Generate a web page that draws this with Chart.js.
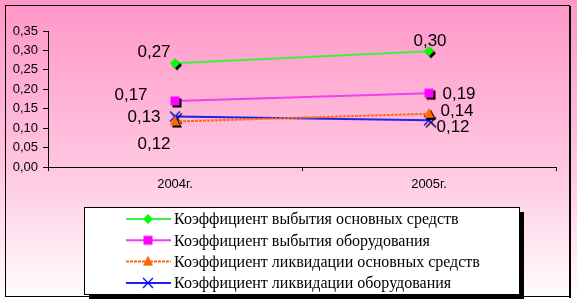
<!DOCTYPE html>
<html>
<head>
<meta charset="utf-8">
<script src="https://cdn.jsdelivr.net/npm/chart.js@4.4.0/dist/chart.umd.min.js"></script>
<style>
  html, body { margin: 0; padding: 0; background: #fff; }
</style>
</head>
<body>
<canvas id="chart" width="577" height="303"></canvas>
<script>
const years = ['2004г.', '2005г.'];
const vybytieOS = [0.267, 0.298];
const vybytieObor = [0.17, 0.19];
const likvidOS = [0.117, 0.137];
const likvidObor = [0.13, 0.12];
const seriesNames = [
    'Коэффициент выбытия основных средств',
    'Коэффициент выбытия оборудования',
    'Коэффициент ликвидации основных средств',
    'Коэффициент ликвидации оборудования'
];

// where each value label sits relative to its point
const labelShift = [
    [[-21, -11], [1, -10]],
    [[-44, -6], [30, 1]],
    [[-21, 23], [28, -2]],
    [[-31, 1], [24, 7]]
];

function fmt(v) {
    return v.toFixed(2).replace('.', ',');
}

function shape(c, kind, x, y, color) {
    c.fillStyle = color;
    c.strokeStyle = color;
    c.beginPath();
    if (kind === 'diamond') {
        c.moveTo(x, y - 5); c.lineTo(x + 5, y); c.lineTo(x, y + 5); c.lineTo(x - 5, y);
        c.closePath(); c.fill();
    } else if (kind === 'square') {
        c.rect(x - 4.5, y - 4.5, 9, 9); c.fill();
    } else if (kind === 'triangle') {
        c.moveTo(x, y - 6); c.lineTo(x + 5, y + 4); c.lineTo(x - 5, y + 4);
        c.closePath(); c.fill();
    } else {
        c.lineWidth = 1.3;
        c.moveTo(x - 5, y - 5); c.lineTo(x + 5, y + 5);
        c.moveTo(x + 5, y - 5); c.lineTo(x - 5, y + 5);
        c.stroke();
    }
}

function marker(kind, color, withShadow) {
    const cv = document.createElement('canvas');
    cv.width = 20; cv.height = 20;
    const c = cv.getContext('2d');
    if (withShadow) shape(c, kind, 12, 12, '#000');
    shape(c, kind, 10, 10, color);
    return cv;
}

const colors = ['#00ff00', '#ff00ff', '#ff6600', '#0000ff'];
const lineColors = ['#40f040', '#f040f0', '#ff6a10', '#2020f0'];
const kinds = ['diamond', 'square', 'triangle', 'cross'];

const bgPlugin = {
    id: 'bg',
    beforeDraw(chart) {
        const c = chart.ctx;
        const g = c.createLinearGradient(0, 0, 0, chart.height);
        g.addColorStop(0, '#ff96c8');
        g.addColorStop(0.55, '#ffc6e0');
        g.addColorStop(1, '#ffffff');
        c.save();
        c.fillStyle = g;
        c.fillRect(0, 0, chart.width, chart.height);
        c.strokeStyle = '#000';
        c.lineWidth = 1;
        c.strokeRect(5.5, 5.5, 564, 291);
        c.fillStyle = '#000';
        c.fillRect(569, 6, 2, 292);
        c.restore();
    }
};

const labelPlugin = {
    id: 'valueLabels',
    afterDatasetsDraw(chart) {
        const c = chart.ctx;
        c.save();
        c.font = '17px "Liberation Sans", Arial, sans-serif';
        c.fillStyle = '#000';
        c.textAlign = 'center';
        c.textBaseline = 'middle';
        chart.data.datasets.forEach((ds, i) => {
            chart.getDatasetMeta(i).data.forEach((pt, j) => {
                const s = labelShift[i][j];
                c.fillText(fmt(ds.data[j]), pt.x + s[0], pt.y + s[1]);
            });
        });
        c.restore();
    }
};

const legendPlugin = {
    id: 'boxLegend',
    afterDraw(chart) {
        const c = chart.ctx;
        const x = 84, y = 207, w = 435, h = 87;
        c.save();
        c.fillStyle = '#000';
        c.fillRect(x + 5, y + 5, w, h);
        c.fillStyle = '#fff';
        c.fillRect(x, y, w, h);
        c.strokeStyle = '#000';
        c.lineWidth = 1;
        c.strokeRect(x + 0.5, y + 0.5, w, h);
        c.font = '16px "Liberation Serif", "Times New Roman", serif';
        c.textBaseline = 'middle';
        c.textAlign = 'left';
        chart.data.datasets.forEach((ds, i) => {
            const ry = 219 + i * 21.3;
            c.strokeStyle = lineColors[i];
            c.lineWidth = 2;
            c.setLineDash(i === 2 ? [3, 1] : []);
            c.beginPath();
            c.moveTo(126, ry); c.lineTo(171, ry);
            c.stroke();
            c.setLineDash([]);
            c.drawImage(marker(kinds[i], colors[i], false), 138, ry - 10);
            c.fillStyle = '#000';
            c.fillText(ds.label, 174, ry + 1);
        });
        c.restore();
    }
};

const seriesData = [vybytieOS, vybytieObor, likvidOS, likvidObor];

const datasets = seriesData.map((vals, i) => ({
    label: seriesNames[i],
    data: vals,
    borderColor: lineColors[i],
    borderWidth: 2,
    borderDash: i === 2 ? [3, 1] : [],
    pointStyle: marker(kinds[i], colors[i], true),
    pointRadius: 6,
    tension: 0,
    fill: false
}));

new Chart(document.getElementById('chart'), {
    type: 'line',
    data: { labels: years, datasets: datasets },
    options: {
        responsive: false,
        animation: false,
        devicePixelRatio: 1,
        layout: { padding: { left: 5, right: 21, top: 31, bottom: 0 } },
        plugins: {
            legend: { display: false },
            tooltip: { enabled: false }
        },
        scales: {
            y: {
                min: 0,
                max: 0.35,
                ticks: {
                    stepSize: 0.05,
                    color: '#000',
                    padding: 5,
                    font: { family: '"Liberation Sans", Arial, sans-serif', size: 13 },
                    callback: v => fmt(v)
                },
                grid: { drawOnChartArea: false, tickLength: 5, color: '#000' },
                border: { color: '#000', width: 1 },
                afterFit: s => { s.width = 43; }
            },
            x: {
                offset: true,
                ticks: {
                    color: '#000',
                    padding: 6,
                    font: { family: '"Liberation Sans", Arial, sans-serif', size: 13 }
                },
                grid: { offset: true, drawOnChartArea: false, tickLength: 4, color: '#000' },
                border: { color: '#000', width: 1 },
                afterFit: s => { s.height = 136; }
            }
        }
    },
    plugins: [bgPlugin, labelPlugin, legendPlugin]
});
</script>
</body>
</html>
